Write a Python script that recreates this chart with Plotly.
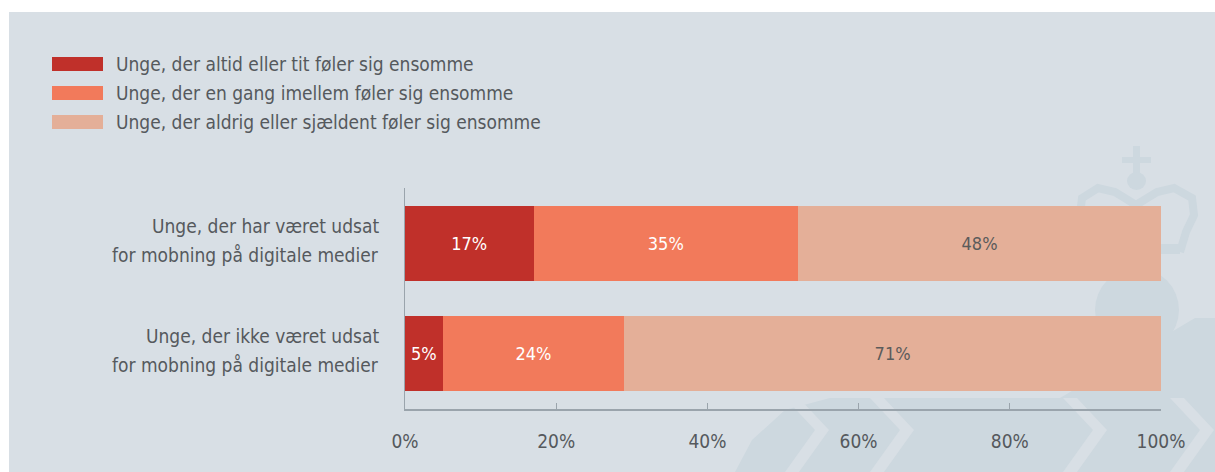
import plotly.graph_objects as go

categories = [
    "Unge, der har været udsat<br>for mobning på digitale medier",
    "Unge, der ikke været udsat<br>for mobning på digitale medier",
]
series_names = [
    "Unge, der altid eller tit føler sig ensomme",
    "Unge, der en gang imellem føler sig ensomme",
    "Unge, der aldrig eller sjældent føler sig ensomme",
]
values_altid = [17, 5]
values_imellem = [35, 24]
values_aldrig = [48, 71]
x_ticks = [0, 20, 40, 60, 80, 100]
x_tick_labels = ["0%", "20%", "40%", "60%", "80%", "100%"]

colors = ["#c0302a", "#f27a5b", "#e4af98"]
text_colors = ["#ffffff", "#ffffff", "#5b5b5b"]
FONT = "DejaVu Sans Condensed, Liberation Sans Narrow, Roboto, sans-serif"
GRAY = "#55595d"
BG = "#d8dfe5"
WM = "#cdd8df"

W, H = 1215, 472
L, R, T, B = 405, 1161, 188, 409


def px(x):
    return (x - L) / (R - L)


def py(y):
    return (B - y) / (B - T)


fig = go.Figure()
for name, vals, c, tc in zip(series_names,
                             [values_altid, values_imellem, values_aldrig],
                             colors, text_colors):
    fig.add_trace(go.Bar(
        y=categories, x=vals, name=name, orientation="h",
        marker=dict(color=c, line=dict(width=0)),
        width=0.68,
        text=[f"{v}%" for v in vals],
        textposition="inside", insidetextanchor="middle",
        textfont=dict(family=FONT, size=18, color=tc),
        constraintext="none",
        showlegend=False,
        hoverinfo="skip",
    ))

shapes = []
# background panel
shapes.append(dict(type="rect", xref="paper", yref="paper",
                   x0=px(9), x1=px(1240), y0=py(12), y1=py(490),
                   fillcolor=BG, line=dict(width=0), layer="below"))


def path_px(pts, close=True):
    s = "M " + " L ".join(f"{px(x):.5f},{py(y):.5f}" for x, y in pts)
    return s + (" Z" if close else "")


# watermark: ribbons / chevrons in lower right
ribbon = [(735, 472), (752, 440), (785, 410), (830, 398), (1060, 398),
          (1195, 318), (1215, 318), (1215, 472)]
shapes.append(dict(type="path", xref="paper", yref="paper", path=path_px(ribbon),
                   fillcolor=WM, line=dict(width=0), layer="below"))
for ax_, w in [(815, 14), (900, 14), (1093, 14), (1200, 14)]:
    chev = [(ax_ - 30, 398), (ax_ - 30 + w, 398), (ax_ + w, 430),
            (ax_ - 30 + w, 472), (ax_ - 30, 472), (ax_, 430)]
    shapes.append(dict(type="path", xref="paper", yref="paper", path=path_px(chev),
                       fillcolor=BG, line=dict(width=0), layer="below"))
# orb
shapes.append(dict(type="circle", xref="paper", yref="paper",
                   x0=px(1095), x1=px(1179), y0=py(268), y1=py(352),
                   fillcolor=WM, line=dict(width=0), layer="below"))
# crown
shapes.append(dict(type="rect", xref="paper", yref="paper",
                   x0=px(1133), x1=px(1140), y0=py(146), y1=py(176),
                   fillcolor=WM, line=dict(width=0), layer="below"))
shapes.append(dict(type="rect", xref="paper", yref="paper",
                   x0=px(1122), x1=px(1151), y0=py(157), y1=py(163),
                   fillcolor=WM, line=dict(width=0), layer="below"))
shapes.append(dict(type="circle", xref="paper", yref="paper",
                   x0=px(1127), x1=px(1146), y0=py(172), y1=py(190),
                   fillcolor=WM, line=dict(width=0), layer="below"))
crown = [(1090, 252), (1088, 232), (1080, 215), (1082, 198), (1098, 188),
         (1115, 192), (1136, 205), (1157, 192), (1174, 188), (1192, 198),
         (1194, 215), (1186, 232), (1180, 252)]
shapes.append(dict(type="path", xref="paper", yref="paper", path=path_px(crown, close=False),
                   fillcolor="rgba(0,0,0,0)", line=dict(width=8, color=WM), layer="below"))
shapes.append(dict(type="rect", xref="paper", yref="paper",
                   x0=px(1090), x1=px(1180), y0=py(244), y1=py(254),
                   fillcolor=WM, line=dict(width=0), layer="below"))

# legend swatches + labels
annotations = []
legend_rows = [64, 93, 122]
for name, c, yy in zip(series_names, colors, legend_rows):
    shapes.append(dict(type="rect", xref="paper", yref="paper",
                       x0=px(52), x1=px(103), y0=py(yy - 7), y1=py(yy + 7),
                       fillcolor=c, line=dict(width=0)))
    annotations.append(dict(xref="paper", yref="paper", x=px(114), y=py(yy),
                            xanchor="left", yanchor="middle", showarrow=False,
                            text=name, font=dict(family=FONT, size=19, color=GRAY)))

# category labels (two lines each)
for cat in categories:
    lines = cat.split("<br>")
    n = len(lines)
    for i, ln in enumerate(lines):
        annotations.append(dict(xref="paper", yref="y", x=0, y=cat,
                                xanchor="right", yanchor="middle", showarrow=False,
                                xshift=-24, yshift=3 + (n - 1) / 2 * 29 - i * 29,
                                text=ln, font=dict(family=FONT, size=19, color=GRAY)))

fig.update_layout(
    width=W, height=H,
    margin=dict(l=L, r=W - R, t=T, b=H - B, pad=0),
    barmode="stack",
    paper_bgcolor="white",
    plot_bgcolor="rgba(0,0,0,0)",
    showlegend=False,
    shapes=shapes,
    annotations=annotations,
    xaxis=dict(range=[0, 100], tickvals=x_ticks, ticktext=x_tick_labels,
               showgrid=False, zeroline=False, showline=True,
               linecolor="#9aa4ac", linewidth=2,
               ticks="inside", ticklen=6, tickcolor="#9aa4ac", tickwidth=1,
               ticklabelstandoff=14,
               tickfont=dict(family=FONT, size=19, color=GRAY), fixedrange=True),
    yaxis=dict(categoryorder="array", categoryarray=categories,
               autorange="reversed",
               showgrid=False, zeroline=False, showline=True,
               linecolor="#9aa4ac", linewidth=1,
               showticklabels=False, ticks="", fixedrange=True),
)

fig.write_html("out.html",
               config={"displayModeBar": False},
               post_script="document.body.style.margin='0';document.body.style.overflow='hidden';")
